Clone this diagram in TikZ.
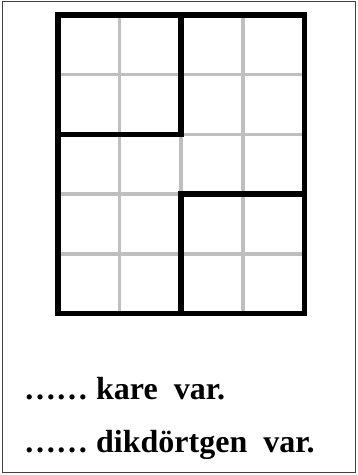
\documentclass[tikz,border=0pt]{standalone}
\usepackage{fontspec}
\setmainfont{Liberation Serif}
\begin{document}
\begin{tikzpicture}[x=1pt,y=-1pt,
  thin grid/.style={draw=black!25,line width=3.5pt},
  thick grid/.style={draw=black,line width=5.5pt,line join=miter,line cap=rect},
  frame/.style={draw=black!75,line width=1.6pt},
  label/.style={anchor=base west,inner sep=0pt,font=\fontsize{32}{36}\selectfont\bfseries}]
\useasboundingbox (0,0) rectangle (357,475);
\draw[frame] (2.5,1.5) rectangle (355.5,472.5);
% grid coordinates
\foreach \i in {0,...,4} {\coordinate (c\i) at ({58+61.6*\i},0);}
\foreach \j in {0,...,5} {\coordinate (r\j) at (0,{15+59.7*\j});}
% thin grid lines
\foreach \i in {1,2,3} {\draw[thin grid] (c\i |- r0) -- (c\i |- r5);}
\foreach \j in {1,2,3,4} {\draw[thin grid] (c0 |- r\j) -- (c4 |- r\j);}
% thick lines
\draw[thick grid] (c0 |- r0) rectangle (c4 |- r5);
\draw[thick grid] (c2 |- r0) -- (c2 |- r2) -- (c0 |- r2);
\draw[thick grid] (c4 |- r3) -- (c2 |- r3) -- (c2 |- r5);
% texts
\node[label] (t1) at (24,399) {…… kare\ \ var.};
\node[label] (t2) at (24,452) {…… dikdörtgen\ \ var.};
\end{tikzpicture}
\end{document}
